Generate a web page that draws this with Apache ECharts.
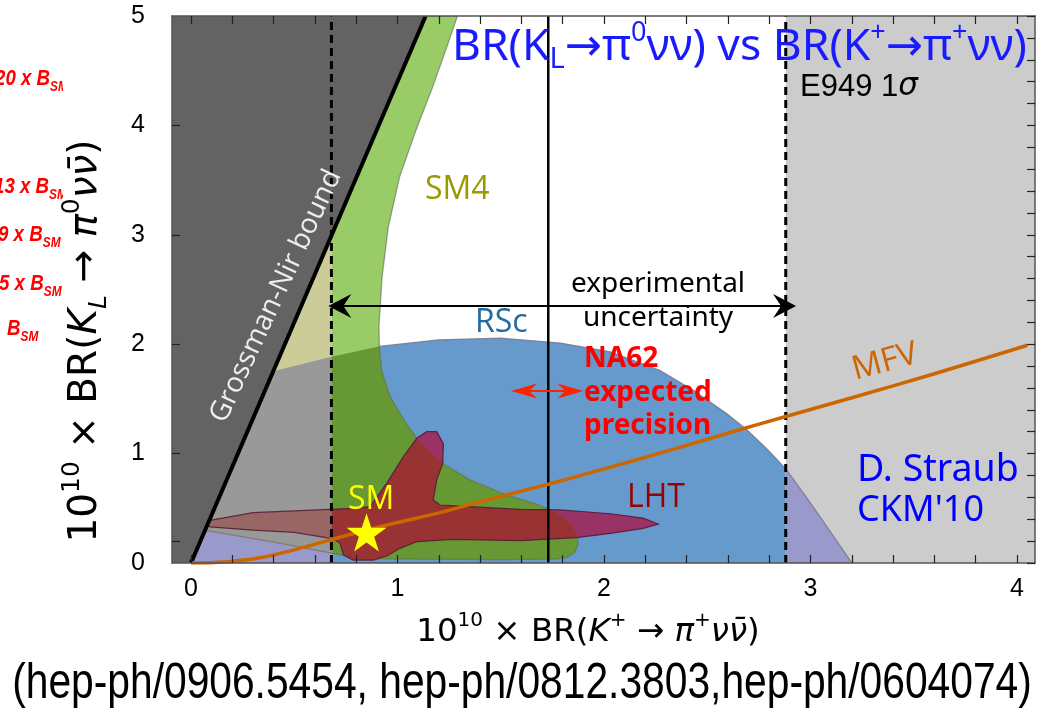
<!DOCTYPE html>
<html>
<head>
<meta charset="utf-8">
<title>BR(KL→π0νν) vs BR(K+→π+νν)</title>
<script src="https://cdn.jsdelivr.net/npm/echarts@6/dist/echarts.min.js"></script>
<style>
  html, body { margin: 0; padding: 0; background: #ffffff; }
  #chart { width: 1045px; height: 715px; }
</style>
</head>
<body>
<div id="chart"></div>
<script>
// ---------------- axis ranges and ticks (units of 10^-10) ----------------
const xRange = [-0.092, 4.087];
const yRange = [0, 5];
const xTickLabels = [0, 1, 2, 3, 4];
const yTickLabels = [0, 1, 2, 3, 4, 5];
const leftTicks = [0.2, 1, 2, 3, 4];
const minorStep = 0.2;

// ---------------- Grossman–Nir bound: BR(KL) < gnSlope * BR(K+) ----------------
const gnSlope = 4.4;

// ---------------- E949 BR(K+ -> pi+ nu nubar): 1 sigma band and central value ----------------
const e949 = { low: 0.68, central: 1.73, high: 2.88 };
const expArrow = { from: 0.665, to: 2.93, y: 2.35 };
const na62Arrow = { from: 1.55, to: 1.90, y: 1.572 };

// ---------------- Standard Model point ----------------
const smPoint = [0.85, 0.28];

// ---------------- model regions, points [BR(K+), BR(KL)] ----------------
const rscRegion = [
  [-0.06, 0], [-0.06, 1.25], [0.1, 1.55], [0.415, 1.76], [0.67, 1.88], [0.91, 1.98],
  [1.2, 2.04], [1.5, 2.055], [1.79, 2.01], [2.03, 1.93], [2.27, 1.76], [2.43, 1.58],
  [2.59, 1.37], [2.69, 1.22], [2.79, 1.04], [2.88, 0.86], [2.98, 0.6], [3.08, 0.33], [3.2, 0]
];
const sm4Region = [
  [0.0, 0.30], [1.0, 5.0], [1.29, 5.0], [1.245, 4.75], [1.17, 4.35], [1.09, 3.96],
  [1.01, 3.53], [0.955, 3.07], [0.925, 2.61], [0.91, 2.16], [0.912, 1.98], [0.923, 1.76],
  [0.964, 1.52], [1.03, 1.31], [1.10, 1.12], [1.22, 0.91], [1.35, 0.76], [1.53, 0.62],
  [1.67, 0.54], [1.77, 0.46], [1.83, 0.38], [1.865, 0.28], [1.875, 0.18], [1.86, 0.10],
  [1.82, 0.05], [1.76, 0.035], [1.5, 0.03], [1.1, 0.035], [0.85, 0.04], [0.74, 0.07],
  [0.68, 0.09], [0.4, 0.19], [0.1, 0.29]
];
const lhtRegion = [
  [0.06, 0.36], [0.092, 0.39], [0.3, 0.46], [0.67, 0.49], [0.79, 0.50], [0.867, 0.515],
  [0.948, 0.73], [1.028, 0.97], [1.093, 1.14], [1.141, 1.20], [1.19, 1.20], [1.222, 1.09],
  [1.219, 0.91], [1.19, 0.76], [1.173, 0.576], [1.206, 0.53], [1.351, 0.515], [1.593, 0.49],
  [1.787, 0.485], [2.03, 0.45], [2.19, 0.41], [2.263, 0.356], [2.19, 0.317], [2.03, 0.27],
  [1.868, 0.232], [1.593, 0.204], [1.27, 0.216], [1.093, 0.195], [1.012, 0.134], [0.948, 0.064],
  [0.883, 0.027], [0.786, 0.027], [0.738, 0.073], [0.722, 0.18], [0.69, 0.22], [0.5, 0.28],
  [0.3, 0.30], [0.092, 0.33]
];
const mfvCurve = [
  [0.0, 0.0], [0.1, 0.003], [0.2, 0.015], [0.34, 0.05], [0.5, 0.12], [0.673, 0.21],
  [0.85, 0.30], [1.0, 0.37], [1.206, 0.46], [1.4, 0.56], [1.73, 0.72], [2.0, 0.86],
  [2.3, 1.02], [2.66, 1.22], [2.876, 1.337], [3.2, 1.51], [3.6, 1.73], [4.05, 1.99]
];

// ---------------- colours and fonts ----------------
const COL = {
  gn: '#636363', excl: '#cccccc',
  rsc: '#6699cc', rscExcl: '#9999cc',
  sm4: '#99cc66', sm4Excl: '#cccc99',
  sm4rsc: '#669933', sm4rscExcl: '#999999',
  lht: '#993333', lhtBlue: '#993366', lhtExcl: '#996666',
  mfv: '#cc6600'
};
const FF_NOTE = '"Noto Sans", "DejaVu Sans", sans-serif';
const FF_LAB = '"Open Sans", "Noto Sans", sans-serif';
const FF_AXIS = '"DejaVu Sans", sans-serif';
const FF_TICK = '"Liberation Sans", sans-serif';

const minorTicks = (lo, hi) => {
  const out = [];
  for (let v = lo; v <= hi + 1e-9; v += minorStep) out.push(+v.toFixed(2));
  return out;
};
const xMinor = minorTicks(0, 4);
const yMinor = minorTicks(0, 5);

// ---------------- polygon clipping helpers ----------------
function clipPoly(poly, inside, cut) {
  const out = [];
  for (let i = 0; i < poly.length; i++) {
    const cur = poly[i], prev = poly[(i + poly.length - 1) % poly.length];
    const cIn = inside(cur), pIn = inside(prev);
    if (cIn) { if (!pIn) out.push(cut(prev, cur)); out.push(cur); }
    else if (pIn) out.push(cut(prev, cur));
  }
  return out;
}
function clipX(poly, x0, keepRight) {
  return clipPoly(poly,
    p => keepRight ? p[0] >= x0 : p[0] <= x0,
    (a, b) => { const t = (x0 - a[0]) / (b[0] - a[0]); return [x0, a[1] + t * (b[1] - a[1])]; });
}
const clipBand = (poly, x0, x1) => clipX(clipX(poly, x0, true), x1, false);
function clipConvex(poly, clip) {
  let area = 0;
  for (let i = 0; i < clip.length; i++) {
    const a = clip[i], b = clip[(i + 1) % clip.length];
    area += a[0] * b[1] - b[0] * a[1];
  }
  const s = Math.sign(area);
  let out = poly;
  for (let i = 0; i < clip.length && out.length; i++) {
    const a = clip[i], b = clip[(i + 1) % clip.length];
    const side = p => s * ((b[0] - a[0]) * (p[1] - a[1]) - (b[1] - a[1]) * (p[0] - a[0]));
    out = clipPoly(out, p => side(p) >= 0, (p, q) => {
      const sp = side(p), sq = side(q), t = sp / (sp - sq);
      return [p[0] + t * (q[0] - p[0]), p[1] + t * (q[1] - p[1])];
    });
  }
  return out;
}

// ---------------- derived region pieces ----------------
// SM4 overlapping RSc (RSc is convex)
const sm4RscRegion = clipConvex(sm4Region, rscRegion);
// convex pieces cut from the SM4 outline, used to split LHT into the parts over SM4 and over RSc
const sm4Curve = sm4Region.slice(13, 17);           // inner edge beside the LHT knob
const knobOutside = sm4Curve.concat([[sm4Curve[3][0], 1.45], [sm4Curve[0][0], 1.45]]);
const sm4Tip = sm4Region.slice(17, 26);             // rounded lower end of SM4
const tipInside = sm4Tip.concat([[sm4Tip[0][0], sm4Tip[sm4Tip.length - 1][1] - 0.005]]);
const lhtMid = clipBand(lhtRegion, e949.low, e949.high);
const lhtTail = clipX(lhtMid, sm4Tip[0][0], true);

// ---------------- element builders ----------------
function poly(api, pts, fill) {
  if (!pts || pts.length < 3) return null;
  return { type: 'polygon', shape: { points: pts.map(p => api.coord(p)) },
    style: { fill: fill, stroke: null } };
}
function outline(api, pts, stroke, width) {
  return { type: 'polygon', shape: { points: pts.map(p => api.coord(p)) },
    style: { fill: null, stroke: stroke, lineWidth: width } };
}
function seg(p1, p2, stroke, width, dash) {
  return { type: 'line', shape: { x1: p1[0], y1: p1[1], x2: p2[0], y2: p2[1] },
    style: { stroke: stroke, lineWidth: width, lineDash: dash || null, lineCap: 'butt' } };
}
function arrowHead(tip, dir, len, half, notch, fill) {
  return { type: 'polygon', shape: { points: [
      tip, [tip[0] - dir * len, tip[1] - half], [tip[0] - dir * notch, tip[1]], [tip[0] - dir * len, tip[1] + half]
    ] }, style: { fill: fill, stroke: null } };
}
function layerSeries(z, build) {
  return {
    type: 'custom', coordinateSystem: 'cartesian2d', xAxisIndex: 0, yAxisIndex: 0,
    z: z, clip: true, silent: true, data: [[0, 0]],
    renderItem: (params, api) => {
      const els = build(api).filter(Boolean).map((el, i) => Object.assign({ z2: i }, el));
      return { type: 'group', children: els };
    }
  };
}

// model regions, split at the edges of the E949 band
function regionLayer(api) {
  return [
    poly(api, [[xRange[0], 0], [e949.low, 0], [e949.low, 5], [xRange[0], 5]], COL.excl),
    poly(api, [[e949.high, 0], [xRange[1], 0], [xRange[1], 5], [e949.high, 5]], COL.excl),
    // RSc
    poly(api, clipBand(rscRegion, e949.low, e949.high), COL.rsc),
    poly(api, clipX(rscRegion, e949.low, false), COL.rscExcl),
    poly(api, clipX(rscRegion, e949.high, true), COL.rscExcl),
    outline(api, rscRegion, 'rgba(120,120,140,0.85)', 1.3),
    // SM4
    poly(api, clipBand(sm4Region, e949.low, e949.high), COL.sm4),
    poly(api, clipX(sm4Region, e949.low, false), COL.sm4Excl),
    poly(api, clipBand(sm4RscRegion, e949.low, e949.high), COL.sm4rsc),
    poly(api, clipX(sm4RscRegion, e949.low, false), COL.sm4rscExcl),
    outline(api, sm4Region, 'rgba(95,105,80,0.6)', 1.3),
    // LHT: over SM4 in red, over RSc alone in purple
    poly(api, lhtMid, COL.lht),
    poly(api, lhtTail, COL.lhtBlue),
    poly(api, clipConvex(lhtTail, tipInside), COL.lht),
    poly(api, clipConvex(lhtMid, knobOutside), COL.lhtBlue),
    poly(api, clipX(lhtRegion, e949.low, false), COL.lhtExcl),
    outline(api, lhtRegion, 'rgba(85,25,55,0.85)', 1.2)
  ];
}
// Grossman–Nir excluded area, experimental lines and arrows
function topLayer(api) {
  const c = p => api.coord(p);
  const yTop = yRange[1];
  const els = [
    poly(api, [[xRange[0], 0], [0, 0], [yTop / gnSlope, yTop], [xRange[0], yTop]], COL.gn),
    seg(c([e949.low, 0]), c([e949.low, yTop]), '#000', 3, [8, 5]),
    seg(c([e949.high, 0]), c([e949.high, yTop]), '#000', 3, [8, 5]),
    seg(c([e949.central, 0]), c([e949.central, yTop]), '#000', 2.5),
    seg(c([0, 0]), c([yTop / gnSlope, yTop]), '#000', 4)
  ];
  const a1 = c([expArrow.from, expArrow.y]), a2 = c([expArrow.to, expArrow.y]);
  els.push(seg([a1[0] + 10, a1[1]], [a2[0] - 10, a2[1]], '#000', 2));
  els.push(arrowHead(a1, -1, 23, 12, 15, '#000'));
  els.push(arrowHead(a2, 1, 23, 12, 15, '#000'));
  const r1 = c([na62Arrow.from, na62Arrow.y]), r2 = c([na62Arrow.to, na62Arrow.y]);
  els.push(seg([r1[0] + 10, r1[1]], [r2[0] - 10, r2[1]], '#ff2200', 2));
  els.push(arrowHead(r1, -1, 26, 7.5, 18, '#ff2200'));
  els.push(arrowHead(r2, 1, 26, 7.5, 18, '#ff2200'));
  return els;
}

// ---------------- text helpers ----------------
function txt(x, y, text, opt) {
  const o = opt || {};
  const style = {
    text: text, fill: o.fill || '#000', fontSize: o.size || 24, fontFamily: o.family || FF_NOTE,
    fontWeight: o.weight || 'normal', fontStyle: o.style || 'normal',
    align: o.align || 'left', textAlign: o.align || 'left',
    verticalAlign: 'middle', textVerticalAlign: 'middle'
  };
  if (o.rich) style.rich = o.rich;
  return { type: 'text', x: x, y: y, rotation: o.rotation || 0, scaleX: o.scaleX || 1,
    z: o.z || 42, silent: true, style: style };
}
function richSet(size, family, color, extra) {
  return Object.assign({ fontSize: size, fontFamily: family, fill: color, color: color }, extra || {});
}
function axisRich(size) {
  const s = Math.round(size * 0.63);
  return {
    n: richSet(size, FF_AXIS, '#000', { lineHeight: size * 1.35 }),
    i: richSet(size, FF_AXIS, '#000', { lineHeight: size * 1.35, fontStyle: 'italic' }),
    sup: richSet(s, FF_AXIS, '#000', { lineHeight: s * 1.15, verticalAlign: 'top' }),
    sub: richSet(s, FF_AXIS, '#000', { lineHeight: s * 1.15, verticalAlign: 'bottom', fontStyle: 'italic' })
  };
}
const yTitle = '{n|10}{sup|10}{n| × BR(}{i|K}{sub|L}{n| → }{i|π}{sup|0}{i|νν\u0304}{n|)}';
const xTitle = '{n|10}{sup|10}{n| × BR(}{i|K}{sup|+}{n| → }{i|π}{sup|+}{i|νν\u0304}{n|)}';

const titleRich = {
  m: richSet(44.5, FF_NOTE, '#1a1aff', { lineHeight: 54 }),
  sub: richSet(29, FF_NOTE, '#1a1aff', { lineHeight: 29, verticalAlign: 'bottom' }),
  sup: richSet(27, FF_NOTE, '#1a1aff', { lineHeight: 27, verticalAlign: 'top' })
};
const titleText = '{m|BR(K}{sub|L}{m|→π}{sup|0}{m|νν) vs BR(K}{sup|+}{m|→π}{sup|+}{m|νν)}';

// multiples of the SM branching ratio, in the left margin
const redRich = {
  b: richSet(22, '"Liberation Sans", sans-serif', '#ff0000', { fontWeight: 'bold', fontStyle: 'italic', lineHeight: 30 }),
  s: richSet(14, '"Liberation Sans", sans-serif', '#ff0000', { fontWeight: 'bold', fontStyle: 'italic', lineHeight: 14, verticalAlign: 'bottom' })
};
const smMultiples = ['20 x ', '13 x ', '9 x ', '5 x ', ''];
const smMultipleY = [79, 187, 235, 284, 329];
const smMultipleX = [-5, -6, -2, -1, 7];

const graphics = [
  txt(452, 47, titleText, { rich: titleRich }),
  txt(800, 87, 'E949 1{it|σ}', { size: 31, family: '"Liberation Sans", sans-serif',
    rich: { it: richSet(31, '"DejaVu Sans", sans-serif', '#000', { fontStyle: 'italic' }) } }),
  txt(425, 190, 'SM4', { size: 32, family: FF_LAB, fill: '#999900' }),
  txt(475, 323, 'RSc', { size: 32, family: FF_LAB, fill: '#236b9f' }),
  txt(627, 498, 'LHT', { size: 32, family: FF_LAB, fill: '#990000' }),
  txt(348, 500, 'SM', { size: 32, family: FF_LAB, fill: '#ffff00' }),
  txt(885, 362, 'MFV', { size: 33, family: FF_LAB, fill: COL.mfv, align: 'center', rotation: 15 * Math.PI / 180 }),
  txt(276, 296, 'Grossman-Nir bound', { size: 28, family: FF_LAB, fill: '#eeeeee', align: 'center', rotation: 65 * Math.PI / 180 }),
  txt(658, 284, 'experimental', { size: 28, align: 'center' }),
  txt(658, 318, 'uncertainty', { size: 28, align: 'center' }),
  txt(584, 359, 'NA62', { size: 28, weight: 'bold', fill: '#ff0000' }),
  txt(584, 393, 'expected', { size: 28, weight: 'bold', fill: '#ff0000' }),
  txt(584, 426, 'precision', { size: 28, weight: 'bold', fill: '#ff0000' }),
  txt(857, 470, 'D. Straub', { size: 37.5, fill: '#0000ff' }),
  txt(857, 511, "CKM'10", { size: 36, fill: '#0000ff' }),
  txt(86, 341, yTitle, { rich: axisRich(39), align: 'center', rotation: Math.PI / 2 }),
  txt(588, 633, xTitle, { rich: axisRich(32.5), align: 'center' }),
  txt(522, 684, '(hep-ph/0906.5454, hep-ph/0812.3803,hep-ph/0604074)',
    { size: 50, family: '"Liberation Sans", sans-serif', align: 'center', scaleX: 0.815 })
];

smMultiples.forEach((m, i) => {
  const t = (m ? '{b|' + m + '}' : '') + '{b|B}{s|SM}';
  graphics.push(txt(smMultipleX[i], smMultipleY[i], t, { rich: redRich, scaleX: 0.85, z: 40 }));
});
// the top two margin labels run past x = 63 and are cut there
[[60, 100], [168, 206]].forEach(([y0, y1]) => {
  graphics.push({ type: 'rect', z: 41, silent: true, shape: { x: 63, y: y0, width: 12, height: y1 - y0 },
    style: { fill: '#ffffff', stroke: null } });
});

// ---------------- chart ----------------
const axisLine = { show: true, onZero: false, lineStyle: { color: '#555', width: 1.5 } };
const tickStyle = { color: '#222', width: 1.2 };
const option = {
  backgroundColor: '#ffffff',
  animation: false,
  grid: { left: 172, right: 10, top: 16, bottom: 152, outerBoundsMode: 'none', containLabel: false },
  xAxis: [
    { type: 'value', min: xRange[0], max: xRange[1], position: 'bottom', z: 30,
      axisLine: axisLine, splitLine: { show: false },
      axisTick: { show: true, inside: true, length: 8, customValues: xMinor, lineStyle: tickStyle },
      axisLabel: { show: true, customValues: xTickLabels, margin: 14, fontSize: 25, fontFamily: FF_TICK, color: '#000' } },
    { type: 'value', min: xRange[0], max: xRange[1], position: 'top', z: 30,
      axisLine: axisLine, splitLine: { show: false },
      axisTick: { show: true, inside: true, length: 8, customValues: xMinor, lineStyle: tickStyle },
      axisLabel: { show: false } }
  ],
  yAxis: [
    { type: 'value', min: yRange[0], max: yRange[1], position: 'left', z: 30,
      axisLine: axisLine, splitLine: { show: false },
      axisTick: { show: true, inside: true, length: 8, customValues: leftTicks, lineStyle: tickStyle },
      axisLabel: { show: true, customValues: yTickLabels, margin: 27, fontSize: 25, fontFamily: FF_TICK, color: '#000' } },
    { type: 'value', min: yRange[0], max: yRange[1], position: 'right', z: 30,
      axisLine: axisLine, splitLine: { show: false },
      axisTick: { show: true, inside: true, length: 8, customValues: yMinor, lineStyle: tickStyle },
      axisLabel: { show: false } }
  ],
  series: [
    layerSeries(1, regionLayer),
    layerSeries(2, topLayer),
    { type: 'line', name: 'MFV', xAxisIndex: 0, yAxisIndex: 0, z: 4, data: mfvCurve,
      showSymbol: false, symbol: 'none', smooth: 0.25, silent: true, clip: true,
      lineStyle: { color: COL.mfv, width: 3.5 } },
    { type: 'scatter', name: 'SM', xAxisIndex: 0, yAxisIndex: 0, z: 6, data: [smPoint],
      symbol: 'path://M50,2 L61.8,38.2 L99.5,38.2 L69,60.5 L80.6,96.7 L50,74.3 L19.4,96.7 L31,60.5 L0.5,38.2 L38.2,38.2 Z',
      symbolKeepAspect: true, symbolSize: 40, silent: true, itemStyle: { color: '#ffff00', opacity: 1 } }
  ],
  graphic: { elements: graphics }
};

const chart = echarts.init(document.getElementById('chart'), null, { renderer: 'canvas' });
chart.setOption(option);
</script>
</body>
</html>
